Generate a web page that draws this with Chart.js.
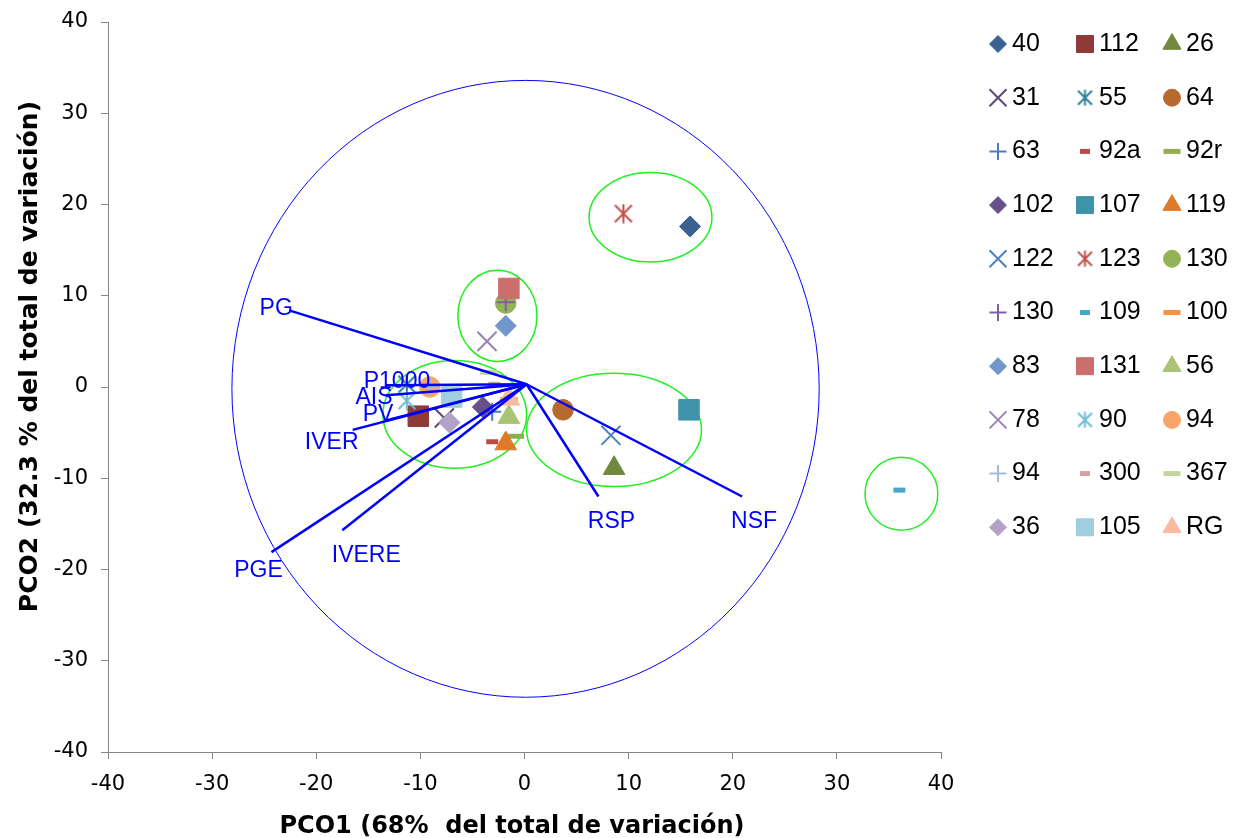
<!DOCTYPE html>
<html>
<head>
<meta charset="utf-8">
<script src="https://cdn.jsdelivr.net/npm/chart.js@4.4.0/dist/chart.umd.min.js"></script>
<style>
  html, body { margin: 0; padding: 0; background: #fff; }
  #wrap { width: 1235px; height: 838px; }
</style>
</head>
<body>
<div id="wrap"><canvas id="pcoChart"></canvas></div>
<script>
// accessions (legend order, row by row)
const seriesNames = ['40','112','26','31','55','64','63','92a','92r','102','107','119','122','123','130',
  '130','109','100','83','131','56','78','90','94','94','300','367','36','105','RG']
const pco1 = [15.9,-10.2,8.6,-7.7,-11.3,3.7,-3.1,-3.1,-0.9,-4.0,15.8,-1.8,8.3,9.5,-1.8,
  -1.8,36.0,-1.5,-1.8,-1.5,-1.5,-3.6,-11.3,-9.1,-9.1,-2.9,-3.4,-7.2,-7.0,-1.5]
const pco2 = [17.6,-3.2,-8.9,-3.4,0.3,-2.5,-2.7,-6.0,-5.4,-2.2,-2.5,-6.2,-5.3,19.0,9.2,
  9.3,-11.3,-1.4,6.7,10.8,-3.3,5.0,-1.5,0.0,0.0,0.3,1.6,-3.9,-1.1,-1.3]

// trait vectors (biplot)
const vectorNames = ['PG','P1000','AIS','PV','IVER','PGE','IVERE','RSP','NSF']
const vectorX = [-22.6,-13.4,-13.3,-13.4,-16.5,-24.3,-17.5,7.1,20.9]
const vectorY = [8.4,0.2,-0.9,-3.7,-4.7,-18.1,-15.7,-12.0,-12.0]
const vectorOrigin = {x: 0.2, y: 0.3}

// grouping ellipses
const groupCx = [12.1,-2.6,-6.7,8.6,36.2]
const groupCy = [18.6,7.8,-3.0,-4.7,-11.7]
const groupRx = [5.9,3.8,6.9,8.4,3.5]
const groupRy = [4.9,5.0,5.9,6.2,4.0]
const bigCircle = {cx: 0.1, cy: -0.2, rx: 28.2, ry: 33.8}

const xTitle = 'PCO1 (68%  del total de variación)'
const yTitle = 'PCO2 (32.3 % del total de variación)'

// styling -----------------------------------------------------------
const colors = ['#3A6192','#8E3A38','#71893F','#5E4878','#2F8198','#B7692E','#4A7EBB','#BE4B48','#8FAF50',
  '#67508A','#3E93AA','#DF7A2A','#4F81BD','#C0504D','#93B356','#7D60A0','#46AAC5','#F69240',
  '#7196CB','#CB6F6D','#A9C474','#9983B5','#6FBDD1','#F9A56A','#A3BADB','#D9A09E','#C3D69B',
  '#B3A2C7','#9FCEDF','#F8BBA0']
const kindCycle = ['diamond','square','triangle','x','star','circle','plus','dashS','dashL']
const kinds = {
  diamond:  {style: 'rectRot',  r: 10.5, lr: 8.5, bw: 1},
  square:   {style: 'rect',     r: 14.5, lr: 12, bw: 1},
  triangle: {style: 'triangle', r: 12.5, lr: 10.5, bw: 1},
  x:        {style: 'crossRot', r: 13.5, lr: 12, bw: 2},
  star:     {style: 'star',     r: 20,   lr: 17, bw: 2},
  circle:   {style: 'circle',   r: 10.3, lr: 8.5, bw: 1},
  plus:     {style: 'cross',    r: 9,    lr: 8.5, bw: 2},
  dashS:    {style: 'line',     r: 6,    lr: 5, bw: 5},
  dashL:    {style: 'line',     r: 9,    lr: 8.5, bw: 5}
}
const labelOffsets = [[-13,-2],[12,-4],[-12,2],[-7,-6],[-21,13],[-13,18],[24,25],[13,25],[12,25]]

// Excel style asterisk: vertical stroke plus an X
function makeAsterisk(color, size) {
  const c = document.createElement('canvas')
  c.width = size; c.height = size
  const g = c.getContext('2d')
  g.strokeStyle = color
  g.lineWidth = 2
  const m = size / 2, d = m - 1.5
  g.beginPath()
  g.moveTo(m, 0.5); g.lineTo(m, size - 0.5)
  g.moveTo(m - d, m - d); g.lineTo(m + d, m + d)
  g.moveTo(m + d, m - d); g.lineTo(m - d, m + d)
  g.stroke()
  return c
}

const markerSets = seriesNames.map((name, i) => {
  const k = kinds[kindCycle[i % 9]]
  const ps = k.style === 'star' ? makeAsterisk(colors[i], k.r) : k.style
  return {
    label: name,
    data: [{x: pco1[i], y: pco2[i]}],
    pointStyle: ps,
    pointRadius: k.r,
    pointHoverRadius: k.r,
    pointBorderWidth: k.bw,
    borderColor: colors[i],
    backgroundColor: colors[i],
    order: 100 - i,
    legendStyle: k.style === 'star' ? makeAsterisk(colors[i], k.lr) : k.style,
    legendRadius: k.lr
  }
})

const vectorSets = vectorNames.map((name, i) => ({
  label: name,
  data: [vectorOrigin, {x: vectorX[i], y: vectorY[i]}],
  showLine: true,
  borderColor: '#0000FF',
  borderWidth: 2.5,
  pointRadius: 0,
  pointHoverRadius: 0,
  order: 0
}))

const ellipsePlugin = {
  id: 'ellipses',
  beforeDatasetsDraw(chart) {
    const {ctx, scales: {x, y}} = chart
    const draw = (cx, cy, rx, ry, color, w) => {
      const px = x.getPixelForValue(cx), py = y.getPixelForValue(cy)
      const prx = Math.abs(x.getPixelForValue(cx + rx) - px)
      const pry = Math.abs(y.getPixelForValue(cy + ry) - py)
      ctx.beginPath()
      ctx.ellipse(px, py, prx, pry, 0, 0, Math.PI * 2)
      ctx.strokeStyle = color
      ctx.lineWidth = w
      ctx.stroke()
    }
    ctx.save()
    draw(bigCircle.cx, bigCircle.cy, bigCircle.rx, bigCircle.ry, '#0000FF', 1)
    groupCx.forEach((cx, i) => draw(cx, groupCy[i], groupRx[i], groupRy[i], '#22EE22', 1.5))
    ctx.restore()
  },
  afterDatasetsDraw(chart) {
    const {ctx, scales: {x, y}} = chart
    ctx.save()
    ctx.fillStyle = '#0000FF'
    ctx.font = '23px "Liberation Sans", Arial, sans-serif'
    ctx.textAlign = 'center'
    ctx.textBaseline = 'middle'
    vectorNames.forEach((name, i) => {
      const px = x.getPixelForValue(vectorX[i]) + labelOffsets[i][0]
      const py = y.getPixelForValue(vectorY[i]) + labelOffsets[i][1]
      ctx.fillText(name, px, py)
    })
    ctx.restore()
  }
}

// legend laid out row by row in 3 columns, like the original
const gridLegend = {
  id: 'gridLegend',
  afterDraw(chart) {
    const ctx = chart.ctx
    ctx.save()
    ctx.font = '25px "Liberation Sans", Arial, sans-serif'
    ctx.textBaseline = 'middle'
    ctx.textAlign = 'left'
    markerSets.forEach((ds, i) => {
      const col = i % 3, row = Math.floor(i / 3)
      const mx = 998 + col * 87, my = 44 + row * 53.7
      ctx.fillStyle = ds.backgroundColor
      ctx.strokeStyle = ds.borderColor
      ctx.lineWidth = ds.pointBorderWidth
      Chart.helpers.drawPoint(ctx, {pointStyle: ds.legendStyle, rotation: 0, radius: ds.legendRadius, borderWidth: ds.pointBorderWidth}, mx, my)
      ctx.fillStyle = '#000'
      ctx.fillText(ds.label, mx + 14, my)
    })
    ctx.restore()
  }
}

const axisTick = {family: '"DejaVu Sans", sans-serif', size: 21}
const xTitleFont = {family: '"DejaVu Sans", sans-serif', size: 24, weight: 'bold'}
const yTitleFont = {family: '"DejaVu Sans", sans-serif', size: 25, weight: 'bold'}

new Chart('pcoChart', {
  type: 'scatter',
  data: {datasets: [...vectorSets, ...markerSets]},
  plugins: [ellipsePlugin, gridLegend],
  options: {
    responsive: true,
    maintainAspectRatio: false,
    animation: false,
    layout: {padding: {top: 22, right: 294, bottom: 0, left: 15}},
    plugins: {
      legend: {display: false},
      tooltip: {enabled: false}
    },
    scales: {
      x: {
        type: 'linear', min: -40, max: 40,
        ticks: {stepSize: 10, color: '#000', font: axisTick, padding: 13},
        grid: {drawOnChartArea: false, tickLength: 7, color: '#868686'},
        border: {color: '#868686'},
        title: {display: true, text: xTitle + '   ', color: '#000', font: xTitleFont, padding: {top: 0, bottom: -3}},
        afterFit: s => { s.height = 86; s.paddingLeft = 0; s.paddingRight = 0 }
      },
      y: {
        type: 'linear', min: -40, max: 40,
        ticks: {stepSize: 10, color: '#000', font: axisTick, padding: 13},
        grid: {drawOnChartArea: false, tickLength: 7, color: '#868686'},
        border: {color: '#868686'},
        title: {display: true, text: '       ' + yTitle, color: '#000', font: yTitleFont, padding: 0},
        afterFit: s => { s.width = 93; s.paddingTop = 0; s.paddingBottom = 0 }
      }
    }
  }
})
</script>
</body>
</html>
